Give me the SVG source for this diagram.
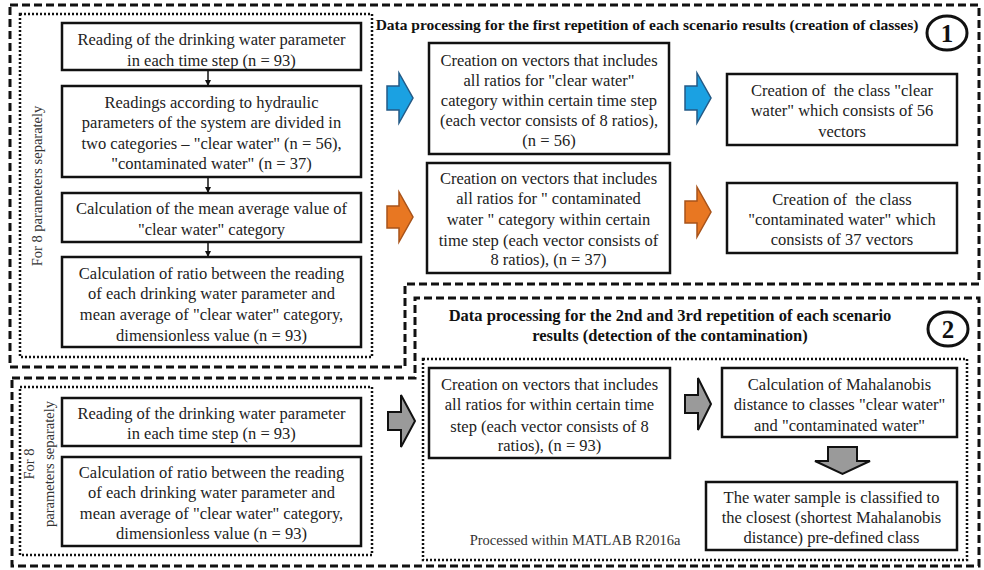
<svg xmlns="http://www.w3.org/2000/svg" width="984" height="570" viewBox="0 0 984 570">
<defs>
<style>
.bg{fill:#ffffff}
.dash{fill:none;stroke:#111;stroke-width:3;stroke-dasharray:8 4}
.dot{fill:none;stroke:#111;stroke-width:2.5;stroke-dasharray:2 2}
.box{fill:#fff;stroke:#111;stroke-width:2.5}
.t{font-family:"Liberation Serif","Times New Roman",serif;font-size:16.5px;fill:#222;text-anchor:middle;white-space:pre}
.title{font-family:"Liberation Serif","Times New Roman",serif;font-size:16.5px;font-weight:bold;fill:#111;text-anchor:middle}
.title1{font-family:"Liberation Serif","Times New Roman",serif;font-size:15.5px;font-weight:bold;fill:#111;text-anchor:middle}
.side{font-family:"Liberation Serif","Times New Roman",serif;font-size:14.5px;fill:#333;text-anchor:middle}
.small{font-family:"Liberation Serif","Times New Roman",serif;font-size:14.5px;fill:#333;text-anchor:middle}
.num{font-family:"Liberation Serif","Times New Roman",serif;font-size:25px;font-weight:bold;fill:#111;text-anchor:middle}
.circ{fill:#fff;stroke:#111;stroke-width:3}
.link{stroke:#111;stroke-width:1.5;fill:none}
.blue{fill:#1ba1e2;stroke:#245a86;stroke-width:1.5}
.orange{fill:#e87722;stroke:#a8531a;stroke-width:1.5}
.gray{fill:#9a9a9a;stroke:#111;stroke-width:2}
</style>
<marker id="ah" viewBox="0 0 10 10" refX="10" refY="5" markerWidth="6" markerHeight="6" markerUnits="userSpaceOnUse" orient="auto">
<path d="M0,0 L10,5 L0,10 Z" fill="#111"/>
</marker>
</defs>
<rect class="bg" x="0" y="0" width="984" height="570"/>

<g id="frames">
<path class="dash" d="M10,5 H979 V284 H405 V367 H10 Z"/>
<path class="dash" d="M12,378 H415 V298 H979 V566 H12 Z"/>
<rect class="dot" x="20" y="14" width="352" height="343"/>
<rect class="dot" x="20" y="387" width="352" height="168"/>
<rect class="dot" x="423" y="359" width="544" height="201"/>
</g>

<g id="labels">
<text class="title1" x="647" y="30">Data processing for the first repetition of each scenario results (creation of classes)</text>
<text class="title" x="670" y="320.5">Data processing for the 2nd and 3rd repetition of each scenario</text>
<text class="title" x="670" y="340.5">results (detection of the contamination)</text>
<text class="side" transform="translate(42,186) rotate(-90)">For 8 parameters separately</text>
<text class="side" transform="translate(34,464) rotate(-90)">For 8</text>
<text class="side" transform="translate(54,464) rotate(-90)">parameters separately</text>
<text class="small" x="575" y="545">Processed within MATLAB R2016a</text>
</g>

<g id="badge1">
<ellipse class="circ" cx="947" cy="33" rx="20" ry="17"/>
<text class="num" x="947" y="42">1</text>
</g>
<g id="badge2">
<ellipse class="circ" cx="948" cy="329" rx="20" ry="17"/>
<text class="num" x="948" y="338">2</text>
</g>

<g id="connectors">
<line class="link" x1="208" y1="70" x2="208" y2="86" marker-end="url(#ah)"/>
<line class="link" x1="208" y1="177" x2="208" y2="193" marker-end="url(#ah)"/>
<line class="link" x1="208" y1="242" x2="208" y2="257" marker-end="url(#ah)"/>
<polygon class="blue" points="387,86 399,86 399,73 413,98 399,123 399,110 387,110"/>
<polygon class="blue" points="685,86 697,86 697,73 711,98 697,123 697,110 685,110"/>
<polygon class="orange" points="387,206 399,206 399,192 413,217 399,242 399,228 387,228"/>
<polygon class="orange" points="685,201 697,201 697,187 711,212 697,237 697,223 685,223"/>
<polygon class="gray" points="388,412 401,412 401,395 415,421 401,447 401,430 388,430"/>
<polygon class="gray" points="685,395 698,395 698,378 711,404 698,430 698,413 685,413"/>
<polygon class="gray" points="828,447 857,447 857,461 870,461 842.5,474 815,461 828,461"/>
</g>

<g id="nodeA">
<rect class="box" x="62" y="23" width="299" height="47"/>
<text class="t" x="211.5" y="44.5">Reading of the drinking water parameter</text>
<text class="t" x="211.5" y="65.5">in each time step (n = 93)</text>
</g>
<g id="nodeB">
<rect class="box" x="62" y="86" width="299" height="91"/>
<text class="t" x="211.5" y="107.5">Readings according to hydraulic</text>
<text class="t" x="211.5" y="127.5">parameters of the system are divided in</text>
<text class="t" x="211.5" y="148.5">two categories – "clear water" (n = 56),</text>
<text class="t" x="211.5" y="168.5">"contaminated water" (n = 37)</text>
</g>
<g id="nodeC">
<rect class="box" x="62" y="193" width="299" height="49"/>
<text class="t" x="211.5" y="213.5">Calculation of the mean average value of</text>
<text class="t" x="211.5" y="234.5">"clear water" category</text>
</g>
<g id="nodeD">
<rect class="box" x="62" y="257" width="299" height="90"/>
<text class="t" x="211.5" y="278.5">Calculation of ratio between the reading</text>
<text class="t" x="211.5" y="298.5">of each drinking water parameter and</text>
<text class="t" x="211.5" y="319.5">mean average of "clear water" category,</text>
<text class="t" x="211.5" y="340.5">dimensionless value (n = 93)</text>
</g>
<g id="nodeE">
<rect class="box" x="429" y="43" width="240" height="111"/>
<text class="t" x="549" y="65.5">Creation on vectors that includes</text>
<text class="t" x="549" y="85.5">all ratios for "clear water"</text>
<text class="t" x="549" y="105.5">category within certain time step</text>
<text class="t" x="549" y="125.5">(each vector consists of 8 ratios),</text>
<text class="t" x="549" y="145.5">(n = 56)</text>
</g>
<g id="nodeF">
<rect class="box" x="427" y="163" width="243" height="110"/>
<text class="t" x="548.5" y="183.5">Creation on vectors that includes</text>
<text class="t" x="548.5" y="203.5">all ratios for " contaminated</text>
<text class="t" x="548.5" y="224.5">water " category within certain</text>
<text class="t" x="548.5" y="245.5">time step (each vector consists of</text>
<text class="t" x="548.5" y="264.5">8 ratios), (n = 37)</text>
</g>
<g id="nodeG">
<rect class="box" x="727" y="74" width="230" height="71"/>
<text class="t" x="842" y="95.5">Creation of  the class "clear</text>
<text class="t" x="842" y="115.5">water" which consists of 56</text>
<text class="t" x="842" y="136.5">vectors</text>
</g>
<g id="nodeH">
<rect class="box" x="727" y="183" width="230" height="70"/>
<text class="t" x="842" y="204.5">Creation of  the class</text>
<text class="t" x="842" y="224.5">"contaminated water" which</text>
<text class="t" x="842" y="244.5">consists of 37 vectors</text>
</g>
<g id="nodeI">
<rect class="box" x="62" y="398" width="299" height="48"/>
<text class="t" x="211.5" y="418.5">Reading of the drinking water parameter</text>
<text class="t" x="211.5" y="438.5">in each time step (n = 93)</text>
</g>
<g id="nodeJ">
<rect class="box" x="62" y="457" width="299" height="89"/>
<text class="t" x="211.5" y="477.5">Calculation of ratio between the reading</text>
<text class="t" x="211.5" y="497.5">of each drinking water parameter and</text>
<text class="t" x="211.5" y="518.5">mean average of "clear water" category,</text>
<text class="t" x="211.5" y="538.5">dimensionless value (n = 93)</text>
</g>
<g id="nodeK">
<rect class="box" x="429" y="368" width="241" height="90"/>
<text class="t" x="549.5" y="389.5">Creation on vectors that includes</text>
<text class="t" x="549.5" y="409.5">all ratios for within certain time</text>
<text class="t" x="549.5" y="431.5">step (each vector consists of 8</text>
<text class="t" x="549.5" y="450.5">ratios), (n = 93)</text>
</g>
<g id="nodeL">
<rect class="box" x="722" y="368" width="235" height="69"/>
<text class="t" x="839.5" y="389.5">Calculation of Mahalanobis</text>
<text class="t" x="839.5" y="409.5">distance to classes "clear water"</text>
<text class="t" x="839.5" y="430.5">and "contaminated water"</text>
</g>
<g id="nodeM">
<rect class="box" x="706" y="482" width="251" height="68"/>
<text class="t" x="831.5" y="502.5">The water sample is classified to</text>
<text class="t" x="831.5" y="522.5">the closest (shortest Mahalanobis</text>
<text class="t" x="831.5" y="542.5">distance) pre-defined class</text>
</g>
</svg>
